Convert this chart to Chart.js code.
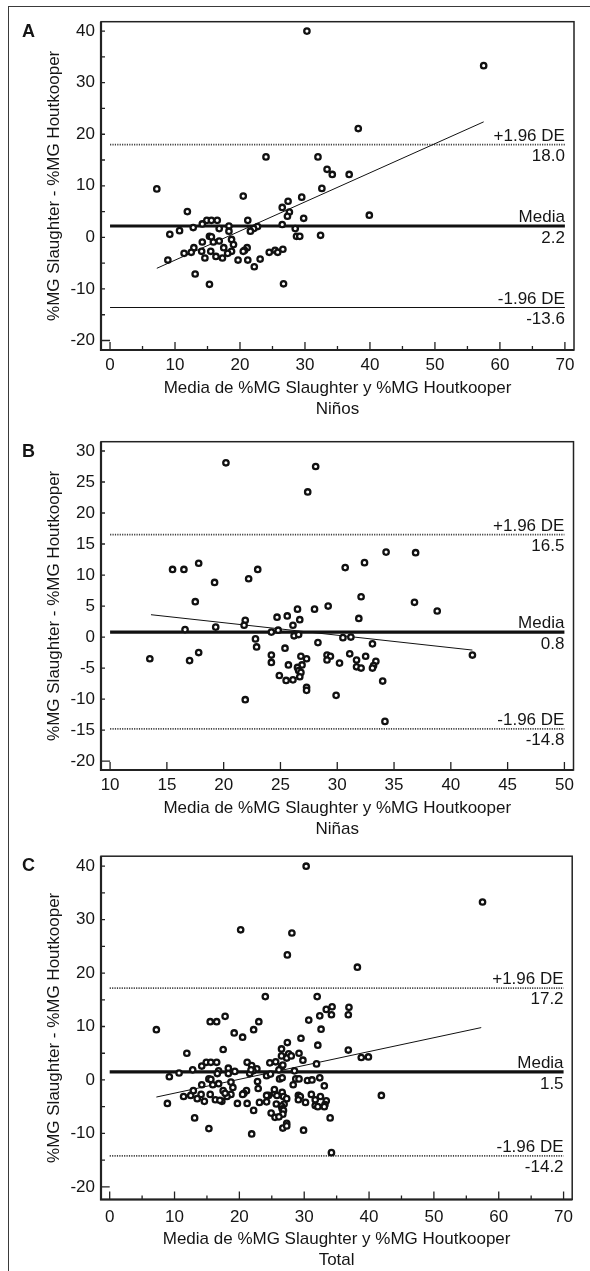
<!DOCTYPE html>
<html>
<head>
<meta charset="utf-8">
<script src="https://cdn.jsdelivr.net/npm/chart.js@4.4.0/dist/chart.umd.min.js"></script>
<style>
html,body{margin:0;padding:0;background:#fff;}
body{width:590px;height:1271px;position:relative;overflow:hidden;}
.frame{position:absolute;left:8px;top:6px;right:0;bottom:0;border-left:1.5px solid #3a3a3a;border-top:1.5px solid #3a3a3a;}
.panel{position:absolute;left:0;width:590px;}
.panel canvas{display:block;}
</style>
</head>
<body>
<div class="frame"></div>
<div class="panel" style="top:0;height:420px"><canvas id="cA" width="590" height="420"></canvas></div>
<div class="panel" style="top:420px;height:420px"><canvas id="cB" width="590" height="420"></canvas></div>
<div class="panel" style="top:840px;height:431px"><canvas id="cC" width="590" height="431"></canvas></div>
<script>
/* ---------------- data ---------------- */
// A · Niños : mean of both methods (x) vs difference Slaughter - Houtkooper (y)
const ninosX=[30.3,57.5,38.2,24.0,32.0,33.4,34.2,36.8,32.6,7.2,20.5,29.5,27.4,26.5,11.9,27.6,27.3,39.9,29.8,14.9,
 15.6,16.5,21.2,14.2,26.5,12.8,18.3,16.8,22.7,22.1,10.7,18.3,21.6,28.5,9.2,15.3,15.6,28.7,29.2,32.4,
 18.7,16.8,15.9,14.2,19.0,12.9,17.5,21.1,20.7,26.6,18.7,15.5,14.1,12.5,11.4,20.5,24.5,25.4,25.8,18.1,
 16.3,17.3,14.6,19.7,21.2,23.1,8.9,22.2,13.1,15.3,26.7];
const ninosY=[40.0,33.3,21.1,15.6,15.6,13.2,12.2,12.2,9.5,9.4,8.0,7.8,7.0,5.8,5.0,4.9,4.1,4.3,3.7,3.3,
 3.3,3.3,3.3,2.6,2.5,1.9,2.2,1.7,2.1,1.7,1.3,1.2,1.2,1.7,0.6,0.2,0.1,0.2,0.2,0.4,
 -0.4,-0.7,-0.9,-0.9,-1.4,-2.0,-2.0,-2.0,-2.5,-2.3,-2.7,-2.7,-2.7,-2.9,-3.1,-2.7,-2.9,-2.5,-2.9,-3.1,
 -3.7,-4.0,-4.0,-4.4,-4.4,-4.2,-4.4,-5.7,-7.1,-9.1,-9.0];
// B · Niñas
const ninasX=[20.2,28.1,27.4,34.3,36.9,17.8,32.4,15.5,16.5,23.0,30.7,22.2,19.2,17.5,32.1,36.8,38.8,29.2,28.0,26.5,
 25.6,24.7,26.7,21.9,26.1,31.9,21.8,19.3,16.6,24.2,24.8,26.2,26.6,30.5,31.2,22.8,28.3,33.1,22.9,25.4,
 17.8,41.9,13.5,17.0,24.2,24.2,26.8,27.3,29.1,29.4,29.1,30.2,31.1,32.5,31.7,31.7,32.1,33.4,33.2,33.1,
 25.7,26.9,26.5,26.6,26.8,26.7,24.9,25.5,26.1,34.0,27.3,27.3,21.9,29.9,34.2];
const ninasY=[28.1,27.5,23.4,13.7,13.6,11.9,12.0,10.9,10.9,10.9,11.2,9.4,8.8,5.7,6.5,5.6,4.2,5.0,4.5,4.5,
 3.4,3.2,2.8,2.7,1.9,3.0,1.9,1.6,1.2,0.8,1.1,0.2,0.4,-0.1,0.0,-0.3,-0.9,-1.1,-1.6,-1.8,
 -2.5,-2.9,-3.5,-3.8,-2.9,-4.1,-3.1,-3.5,-2.9,-3.1,-3.7,-4.2,-2.7,-3.1,-3.7,-4.8,-5.0,-3.9,-4.6,-5.0,
 -4.5,-4.5,-4.9,-5.4,-5.7,-6.4,-6.2,-7.0,-6.9,-7.1,-8.1,-8.6,-10.1,-9.4,-13.6];
// C · Total = both groups together
const totalX=ninosX.concat(ninasX);
const totalY=ninosY.concat(ninasY);

// limits of agreement: [+1.96 DE, Media, -1.96 DE]
const limitLabels=["+1.96 DE","Media","-1.96 DE"];
const limitsA=[18.0,2.2,-13.6];
const limitsB=[16.5,0.8,-14.8];
const limitsC=[17.2,1.5,-14.2];
// regression line end points [[x0,y0],[x1,y1]]
const regA=[[7.2,-6.0],[57.5,22.4]];
const regB=[[13.6,3.6],[41.9,-2.1]];
const regC=[[7.2,-3.2],[57.3,9.8]];

// axis ticks
const xTicks070=[0,10,20,30,40,50,60,70];
const xMinor070=[5,15,25,35,45,55,65];
const xTicks1050=[10,15,20,25,30,35,40,45,50];
const yTicksAC=[-20,-10,0,10,20,30,40];
const yMarksAC=[-20,-15,-10,-5,0,5,10,15,20,25,30,35,40];
const yTicksB=[-20,-15,-10,-5,0,5,10,15,20,25,30];

const X_TITLE="Media de %MG Slaughter y %MG Houtkooper";
const Y_TITLE="%MG Slaughter - %MG Houtkooper";

/* ---------------- look ---------------- */
const FONT='"Liberation Sans", Arial, Helvetica, sans-serif';
const INK='#151515';
const FS=17;

/* box, inside ticks, limit captions, panel letter */
const bland={
 id:'bland',
 afterDraw(chart,args,o){
  const ctx=chart.ctx, a=chart.chartArea, sx=chart.scales.x, sy=chart.scales.y;
  ctx.save();
  // inside tick marks
  ctx.strokeStyle='#222'; ctx.lineWidth=1.3;
  ctx.beginPath();
  o.xMajor.forEach(v=>{const p=sx.getPixelForValue(v);ctx.moveTo(p,a.bottom);ctx.lineTo(p,a.bottom-8);});
  (o.xMinor||[]).forEach(v=>{const p=sx.getPixelForValue(v);ctx.moveTo(p,a.bottom);ctx.lineTo(p,a.bottom-4);});
  const x0=sx.getPixelForValue(o.xMajor[0]);
  o.yMarks.forEach((v,i)=>{const p=sy.getPixelForValue(v);ctx.moveTo(a.left,p);ctx.lineTo(i===0?x0:a.left+4,p);});
  ctx.stroke();
  // plot frame
  ctx.lineWidth=1.5; ctx.strokeStyle='#222';
  ctx.strokeRect(a.left,a.top,a.right-a.left,a.bottom-a.top);
  ctx.lineWidth=2.2;
  ctx.beginPath();ctx.moveTo(a.left,a.top);ctx.lineTo(a.left,a.bottom);ctx.lineTo(a.right,a.bottom);ctx.stroke();
  // limit captions at the right end of each line
  const xr=sx.getPixelForValue(o.xMajor[o.xMajor.length-1]);
  ctx.fillStyle=INK; ctx.font=`${FS}px ${FONT}`; ctx.textAlign='right';
  o.limits.forEach((v,i)=>{
   const p=sy.getPixelForValue(v);
   ctx.textBaseline='alphabetic'; ctx.fillText(limitLabels[i],xr,p-4);
   ctx.textBaseline='top'; ctx.fillText(v.toFixed(1),xr,p+(i===1?4:3));
  });
  // panel letter
  ctx.font=`bold 18px ${FONT}`; ctx.textAlign='left'; ctx.textBaseline='middle';
  ctx.fillText(o.letter,22,a.top+10);
  ctx.restore();
 }
};

function pts(xs,ys){return xs.map((x,i)=>({x,y:ys[i]}));}
function hline(v,x0,x1,st){
 return Object.assign({type:'line',showLine:true,data:[{x:x0,y:v},{x:x1,y:v}],pointRadius:0,pointHoverRadius:0,fill:false,borderCapStyle:'butt'},st);
}

function bland_altman(id,c){
 const xt=c.xTicks, x0=xt[0], x1=xt[xt.length-1];
 const dotted={borderColor:'#404040',borderWidth:1.7,borderDash:[1.2,1.2]};
 const solid={borderColor:'#111',borderWidth:1.2};
 const ds=[
  {type:'scatter',data:pts(c.xs,c.ys),pointStyle:'circle',pointRadius:2.7,pointHoverRadius:2.7,
   pointBorderWidth:2.3,pointBorderColor:'#111',pointBackgroundColor:'#fff'},
  {type:'line',showLine:true,data:c.reg.map(p=>({x:p[0],y:p[1]})),borderColor:'#111',borderWidth:1,pointRadius:0,fill:false},
  hline(c.limits[0],x0,x1,dotted),
  hline(c.limits[1],x0,x1,{borderColor:'#111',borderWidth:3.2}),
  hline(c.limits[2],x0,x1,c.lowerSolid?solid:dotted)
 ];
 return new Chart(document.getElementById(id),{
  type:'scatter',
  data:{datasets:ds},
  plugins:[bland],
  options:{
   responsive:false,animation:false,
   layout:{padding:{top:c.top,right:c.right,left:0,bottom:0}},
   plugins:{legend:{display:false},tooltip:{enabled:false},
    bland:{letter:c.letter,xMajor:xt,xMinor:c.xMinor,yMarks:c.yMarks,limits:c.limits}},
   scales:{
    x:{type:'linear',min:c.xMin,max:c.xMax,
     afterBuildTicks:s=>{s.ticks=xt.map(v=>({value:v}));},
     afterFit:s=>{s.height=c.xH;},
     grid:{display:false,drawTicks:false},border:{display:false},
     ticks:{color:INK,font:{family:FONT,size:FS},padding:c.xPad,maxRotation:0,autoSkip:false,callback:v=>String(v)},
     title:{display:true,text:[X_TITLE,c.sub],color:INK,font:{family:FONT,size:FS,lineHeight:1.24},padding:{top:0,bottom:0}}},
    y:{type:'linear',min:c.yMin,max:c.yMax,
     afterBuildTicks:s=>{s.ticks=c.yTicks.map(v=>({value:v}));},
     afterFit:s=>{s.width=101;},
     grid:{display:false,drawTicks:false},border:{display:false},
     ticks:{color:INK,font:{family:FONT,size:FS},padding:6,autoSkip:false,callback:v=>String(v)},
     title:{display:true,text:Y_TITLE,color:INK,font:{family:FONT,size:FS,lineHeight:1.24},padding:{top:44,bottom:0}}}
   }
  }
 });
}

bland_altman('cA',{letter:'A',sub:'Niños',xs:ninosX,ys:ninosY,limits:limitsA,reg:regA,lowerSolid:true,
 xTicks:xTicks070,xMinor:xMinor070,yTicks:yTicksAC,yMarks:yMarksAC,
 xMin:-1.39,xMax:71.4,yMin:-21.84,yMax:41.82,top:21.7,right:16,xH:70,xPad:5});
bland_altman('cB',{letter:'B',sub:'Niñas',xs:ninasX,ys:ninasY,limits:limitsB,reg:regB,
 xTicks:xTicks1050,xMinor:[],yTicks:yTicksB,yMarks:yTicksB,
 xMin:9.2,xMax:50.8,yMin:-21.44,yMax:31.5,top:21.7,right:16.5,xH:70,xPad:5});
bland_altman('cC',{letter:'C',sub:'Total',xs:totalX,ys:totalY,limits:limitsC,reg:regC,
 xTicks:xTicks070,xMinor:xMinor070,yTicks:yTicksAC,yMarks:yMarksAC,
 xMin:-1.34,xMax:71.33,yMin:-22.37,yMax:41.87,top:16,right:17.8,xH:71.5,xPad:8});
</script>
</body>
</html>
